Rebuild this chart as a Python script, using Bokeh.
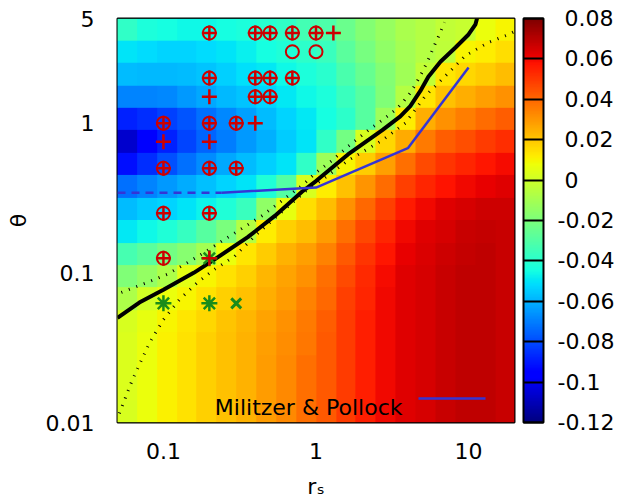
import numpy as np
from bokeh.plotting import figure
from bokeh.models import (LinearColorMapper, ColorBar, FixedTicker,
                          CustomJSTickFormatter, Label)
from bokeh.embed import file_html
from bokeh.resources import INLINE

# ---------------- data ----------------
RS_CENTERS = [0.058, 0.079, 0.106, 0.143, 0.193, 0.26, 0.35, 0.47, 0.64, 0.86,
              1.16, 1.57, 2.1, 2.85, 3.85, 5.2, 7.0, 9.4, 12.7, 17.2]
THETA_CENTERS = [4.2, 2.98, 2.11, 1.5, 1.06, 0.75, 0.53, 0.376, 0.266, 0.188,
                 0.133, 0.094, 0.067, 0.047, 0.0335, 0.0237, 0.0168, 0.0119]  # top -> bottom
DELTA = [
    [-0.038, -0.043, -0.045, -0.046, -0.046, -0.045, -0.043, -0.041, -0.038, -0.034, -0.031, -0.024, -0.018, -0.013, -0.009, -0.006, -0.003, -0.002, 0.007, 0.010],
    [-0.050, -0.052, -0.053, -0.053, -0.052, -0.050, -0.048, -0.045, -0.042, -0.039, -0.036, -0.028, -0.021, -0.015, -0.010, -0.006, -0.004, 0.010, 0.012, 0.015],
    [-0.058, -0.059, -0.059, -0.058, -0.056, -0.054, -0.051, -0.049, -0.046, -0.043, -0.040, -0.032, -0.025, -0.018, -0.011, -0.003, 0.013, 0.016, 0.019, 0.022],
    [-0.069, -0.069, -0.068, -0.065, -0.062, -0.059, -0.056, -0.053, -0.049, -0.046, -0.043, -0.036, -0.029, -0.019, -0.006, 0.013, 0.021, 0.025, 0.028, 0.031],
    [-0.088, -0.086, -0.082, -0.078, -0.073, -0.068, -0.063, -0.058, -0.053, -0.049, -0.045, -0.039, -0.029, -0.012, 0.012, 0.025, 0.031, 0.035, 0.039, 0.042],
    [-0.106, -0.097, -0.088, -0.081, -0.075, -0.070, -0.065, -0.060, -0.055, -0.050, -0.038, -0.022, 0.002, 0.016, 0.026, 0.036, 0.042, 0.045, 0.049, 0.052],
    [-0.092, -0.086, -0.079, -0.073, -0.067, -0.062, -0.058, -0.054, -0.050, -0.038, -0.012, 0.010, 0.019, 0.028, 0.038, 0.046, 0.051, 0.054, 0.057, 0.059],
    [-0.073, -0.069, -0.065, -0.061, -0.057, -0.053, -0.050, -0.042, -0.030, 0.002, 0.012, 0.021, 0.030, 0.039, 0.048, 0.054, 0.058, 0.060, 0.062, 0.063],
    [-0.058, -0.055, -0.053, -0.050, -0.047, -0.042, -0.036, -0.015, 0.006, 0.015, 0.022, 0.031, 0.040, 0.048, 0.056, 0.060, 0.063, 0.065, 0.066, 0.066],
    [-0.049, -0.046, -0.042, -0.037, -0.029, -0.020, -0.006, 0.012, 0.018, 0.022, 0.029, 0.038, 0.047, 0.054, 0.060, 0.063, 0.065, 0.067, 0.068, 0.067],
    [-0.033, -0.028, -0.022, -0.017, -0.010, 0.007, 0.013, 0.019, 0.024, 0.028, 0.034, 0.043, 0.051, 0.057, 0.062, 0.064, 0.066, 0.068, 0.069, 0.067],
    [-0.019, -0.014, -0.008, 0.005, 0.010, 0.014, 0.018, 0.023, 0.027, 0.031, 0.038, 0.046, 0.053, 0.059, 0.063, 0.065, 0.067, 0.069, 0.069, 0.067],
    [-0.008, 0.001, 0.007, 0.010, 0.014, 0.018, 0.021, 0.025, 0.029, 0.034, 0.040, 0.048, 0.054, 0.060, 0.063, 0.065, 0.067, 0.069, 0.069, 0.067],
    [0.002, 0.006, 0.010, 0.013, 0.016, 0.020, 0.023, 0.027, 0.031, 0.036, 0.042, 0.049, 0.055, 0.060, 0.063, 0.065, 0.067, 0.069, 0.069, 0.067],
    [0.003, 0.007, 0.011, 0.014, 0.018, 0.021, 0.024, 0.028, 0.032, 0.037, 0.043, 0.049, 0.055, 0.060, 0.063, 0.065, 0.067, 0.069, 0.069, 0.067],
    [0.003, 0.007, 0.011, 0.014, 0.018, 0.021, 0.024, 0.029, 0.033, 0.038, 0.043, 0.049, 0.055, 0.060, 0.063, 0.065, 0.067, 0.069, 0.069, 0.067],
    [0.003, 0.007, 0.011, 0.014, 0.018, 0.021, 0.024, 0.029, 0.033, 0.038, 0.043, 0.049, 0.055, 0.060, 0.063, 0.065, 0.067, 0.069, 0.069, 0.067],
    [0.002, 0.007, 0.011, 0.014, 0.018, 0.021, 0.024, 0.029, 0.033, 0.038, 0.043, 0.049, 0.055, 0.060, 0.063, 0.065, 0.067, 0.069, 0.069, 0.067],
]

# thick black curve
BLACK_RS = [0.05, 0.0695, 0.1, 0.158, 0.2166, 0.357, 0.537, 0.809, 1.0, 1.62, 2.72,
            3.57, 4.15, 4.83, 5.45, 6.54, 8.21, 10.0, 11.1, 11.5]
BLACK_TH = [0.05, 0.0633, 0.077, 0.1, 0.123, 0.173, 0.24, 0.348, 0.41, 0.618, 0.897,
            1.11, 1.30, 1.64, 2.04, 2.57, 3.20, 3.91, 4.57, 5.25]
# upper dotted curve
UP_RS = [0.053, 0.0785, 0.106, 0.165, 0.307, 0.441, 0.597, 0.809, 0.985, 1.274, 1.624,
         2.2, 2.72, 3.31, 3.68, 4.15, 4.55, 4.98, 5.45, 5.97, 6.54, 6.95]
UP_TH = [0.074, 0.0863, 0.0977, 0.127, 0.19, 0.24, 0.303, 0.382, 0.461, 0.563, 0.70,
         0.897, 1.047, 1.223, 1.364, 1.59, 1.86, 2.20, 2.66, 3.30, 4.04, 4.71]
# lower dotted curve
LO_RS = [0.0514, 0.0625, 0.0809, 0.1, 0.1274, 0.1674, 0.2166, 0.293, 0.397, 0.597, 0.847,
         1.2, 1.624, 2.72, 3.85, 5.21, 7.06, 9.55, 13.5, 18.3, 20.0]
LO_TH = [0.0115, 0.0192, 0.034, 0.0486, 0.0663, 0.0863, 0.1056, 0.129, 0.176, 0.2555, 0.348,
         0.447, 0.563, 0.768, 1.0, 1.52, 2.07, 2.83, 3.46, 3.91, 4.1]
# Militzer & Pollock
MP_DASH_RS = [0.05, 0.241]
MP_DASH_TH = [0.343, 0.343]
MP_RS = [0.241, 1.0, 4.0, 10.0]
MP_TH = [0.343, 0.371, 0.68, 2.35]
# simulation points
CIRC_RS = [0.2, 0.4, 0.5, 0.7, 1.0, 0.7, 1.0, 0.2, 0.4, 0.5, 0.7, 0.4, 0.5,
           0.1, 0.2, 0.3, 0.1, 0.2, 0.3, 0.1, 0.2, 0.1]
CIRC_TH = [4, 4, 4, 4, 4, 3, 3, 2, 2, 2, 2, 1.5, 1.5,
           1, 1, 1, 0.5, 0.5, 0.5, 0.25, 0.25, 0.125]
PLUS_RS = [0.2, 0.4, 0.5, 0.7, 1.0, 1.3, 0.2, 0.4, 0.5, 0.7, 0.2, 0.4, 0.5,
           0.1, 0.2, 0.3, 0.4, 0.1, 0.2, 0.1, 0.2, 0.3, 0.1, 0.2, 0.1, 0.2]
PLUS_TH = [4, 4, 4, 4, 4, 4, 2, 2, 2, 2, 1.5, 1.5, 1.5,
           1, 1, 1, 1, 0.75, 0.75, 0.5, 0.5, 0.5, 0.25, 0.25, 0.125, 0.125]
AST_RS = [0.1, 0.2, 0.2]
AST_TH = [0.0625, 0.0625, 0.125]
XM_RS = [0.3]
XM_TH = [0.0625]

X_TICKS = [0.1, 1, 10]
Y_TICKS = [0.01, 0.1, 1, 5]
CB_TICKS = [-0.12, -0.1, -0.08, -0.06, -0.04, -0.02, 0, 0.02, 0.04, 0.06, 0.08]
CB_LOW, CB_HIGH = -0.12, 0.08
LEGEND_TEXT = "Militzer & Pollock"
X_LABEL = "r\u209b"
Y_LABEL = "θ"

# ---------------- style / layout ----------------
FONT = "DejaVu Sans"
FS = "22px"
RED = "#cc0000"
GREEN = "#1a8c1a"
BLUE = "#3535d5"
X_RANGE = (0.05, 20.0)
Y_RANGE = (0.01, 5.0)
FW, FH = 397, 404
LEFT, TOP, RIGHT, BOTTOM = 117, 18, 112, 81
FX0, FY1 = 117, 422   # frame left / bottom in page pixels


def jet(n=256):
    t = np.linspace(0, 1, n)
    r = np.interp(t, [0, 0.35, 0.66, 0.89, 1], [0, 0, 1, 1, 0.5])
    g = np.interp(t, [0, 0.125, 0.375, 0.64, 0.91, 1], [0, 0, 1, 1, 0, 0])
    b = np.interp(t, [0, 0.11, 0.34, 0.65, 1], [0.5, 1, 1, 0, 0])
    return ["#%02x%02x%02x" % (int(round(a * 255)), int(round(c * 255)), int(round(d * 255)))
            for a, c, d in zip(r, g, b)]


def px_to_data(xp, yp):
    fx = (xp - FX0) / FW
    fy = (FY1 - yp) / FH
    lx0, lx1 = np.log10(X_RANGE)
    ly0, ly1 = np.log10(Y_RANGE)
    return 10 ** (lx0 + fx * (lx1 - lx0)), 10 ** (ly0 + fy * (ly1 - ly0))


p = figure(x_axis_type="log", y_axis_type="log", x_range=X_RANGE, y_range=Y_RANGE,
           frame_width=FW, frame_height=FH, min_border_left=LEFT, min_border_top=TOP,
           min_border_right=RIGHT, min_border_bottom=BOTTOM,
           output_backend="svg", toolbar_location=None)
p.grid.visible = False
p.outline_line_color = "black"
p.outline_line_width = 2
p.background_fill_color = "white"
p.border_fill_color = "white"

mapper = LinearColorMapper(palette=jet(), low=CB_LOW, high=CB_HIGH)

# heat map image (rows listed top -> bottom, image rows go bottom -> top)
lrs = np.log10(RS_CENTERS)
lth = np.log10(THETA_CENTERS)
x0 = 10 ** (lrs[0] - (lrs[1] - lrs[0]) / 2)
x1 = 10 ** (lrs[-1] + (lrs[-1] - lrs[-2]) / 2)
y1 = 10 ** (lth[0] + (lth[0] - lth[1]) / 2)
y0 = 10 ** (lth[-1] - (lth[-2] - lth[-1]) / 2)
img = np.array(DELTA, dtype=float)[::-1]
p.image(image=[img], x=x0, y=y0, dw=x1 - x0, dh=y1 - y0, color_mapper=mapper)

# curves
p.line(UP_RS, UP_TH, line_color="black", line_width=3, line_dash="1 7")
p.line(LO_RS, LO_TH, line_color="black", line_width=3, line_dash="1 7")
p.line(BLACK_RS, BLACK_TH, line_color="black", line_width=4)
p.line(MP_DASH_RS, MP_DASH_TH, line_color=BLUE, line_width=2.5, line_dash="8 6")
p.line(MP_RS, MP_TH, line_color=BLUE, line_width=2.5)

# points
p.scatter(AST_RS, AST_TH, marker="asterisk", size=16, line_color=GREEN, line_width=2.5)
p.scatter(XM_RS, XM_TH, marker="x", size=14, line_color=GREEN, line_width=3)
p.scatter(CIRC_RS, CIRC_TH, marker="circle", size=13, fill_color=None,
          line_color=RED, line_width=2)
p.scatter(PLUS_RS, PLUS_TH, marker="cross", size=15, line_color=RED, line_width=2.5)

# legend (text left of sample, as in the original)
lx, ly = px_to_data(402, 407)
p.add_layout(Label(x=lx, y=ly, text=LEGEND_TEXT, text_align="right",
                   text_baseline="alphabetic", text_font=FONT, text_font_size=FS,
                   text_color="black"))
sx0, sy = px_to_data(418, 398)
sx1, _ = px_to_data(485, 398)
p.segment(x0=[sx0], y0=[sy], x1=[sx1], y1=[sy], line_color=BLUE, line_width=2.5)

# axes
fmt = CustomJSTickFormatter(code="return String(tick);")
for ax, ticks in ((p.xaxis, X_TICKS), (p.yaxis, Y_TICKS)):
    ax.ticker = FixedTicker(ticks=ticks, minor_ticks=[])
    ax.formatter = fmt
    ax.major_tick_line_color = None
    ax.minor_tick_line_color = None
    ax.axis_line_color = None
    ax.major_label_text_font = FONT
    ax.major_label_text_font_size = FS
    ax.major_label_text_color = "black"
    ax.axis_label_text_font = FONT
    ax.axis_label_text_font_size = FS
    ax.axis_label_text_font_style = "normal"
    ax.axis_label_text_color = "black"
p.xaxis.major_label_standoff = 14
p.yaxis.major_label_standoff = 17
p.xaxis.axis_label = X_LABEL
p.xaxis.axis_label_standoff = 12
p.yaxis.axis_label = Y_LABEL
p.yaxis.axis_label_standoff = 12

# colour bar
cb_fmt = CustomJSTickFormatter(code="""
const s = Number(tick.toFixed(2)).toString();
return tick < -1e-9 ? s : '\\u00a0' + s;
""")
cb = ColorBar(color_mapper=mapper, ticker=FixedTicker(ticks=CB_TICKS, minor_ticks=[]),
              formatter=cb_fmt, width=20, height=FH, padding=0, margin=0,
              location=(9, 0), bar_line_color="black", bar_line_width=2,
              major_tick_in=20, major_tick_out=0, major_tick_line_color="black",
              major_tick_line_width=2, minor_tick_line_color=None, label_standoff=14,
              major_label_text_font=FONT, major_label_text_font_size=FS,
              major_label_text_color="black",
              background_fill_color=None, border_line_color=None)
p.add_layout(cb, "right")

open("out.html", "w").write(file_html(p, INLINE))
